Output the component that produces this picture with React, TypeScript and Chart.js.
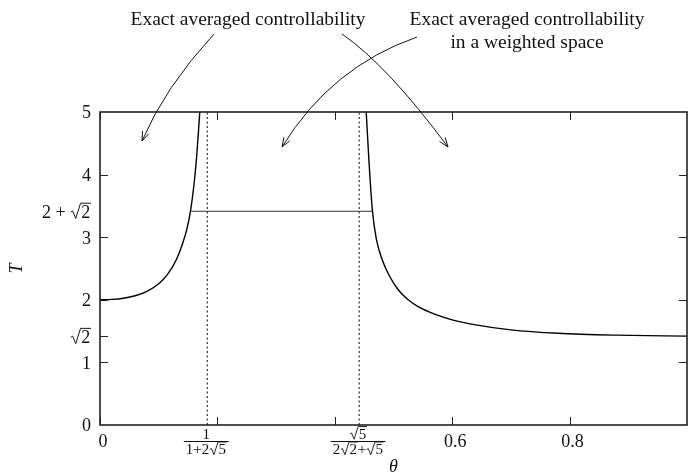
import React, { useEffect, useRef } from "react";
import { Chart, registerables } from "chart.js";

Chart.register(...registerables);

// ---- data ----
const thetaLeft = [0, 0.02, 0.04, 0.06, 0.08, 0.1, 0.115, 0.13, 0.14, 0.148, 0.154, 0.16, 0.165, 0.17];
const tLeft = [2.0, 2.006, 2.025, 2.065, 2.135, 2.255, 2.405, 2.64, 2.88, 3.13, 3.41, 3.83, 4.33, 5.0];

const thetaRight = [0.4535, 0.458, 0.464, 0.471, 0.48, 0.492, 0.508, 0.525, 0.542, 0.57, 0.6, 0.64, 0.7, 0.78, 0.88, 1.0];
const tRight = [5.0, 4.25, 3.43, 2.96, 2.66, 2.4, 2.16, 2.0, 1.89, 1.77, 1.68, 1.6, 1.52, 1.465, 1.435, 1.42];

const plateauTheta = [0.1535, 0.4645];
const plateauT = 3.4142; // 2 + sqrt(2)

// 1/(1+2√5) and √5/(2√2+√5)
const criticalTheta = [0.1827, 0.4415];

const xTickMarks = [0, 0.2, 0.4, 0.6, 0.8];
const xPlainLabels = [0, 0.6, 0.8];
const yLeftTickMarks = [1, 1.4142, 2, 3, 4];
const yRightTickMarks = [1, 2, 3, 4];

type Part = { t?: string; r?: string };
const yLabelValues = [0, 1, 1.4142, 2, 3, 3.4142, 4, 5];
const yLabelParts: Part[][] = [
  [{ t: "0" }],
  [{ t: "1" }],
  [{ r: "2" }],
  [{ t: "2" }],
  [{ t: "3" }],
  [{ t: "2 + " }, { r: "2" }],
  [{ t: "4" }],
  [{ t: "5" }],
];
const fracNum: Part[][] = [[{ t: "1" }], [{ r: "5" }]];
const fracDen: Part[][] = [
  [{ t: "1+2" }, { r: "5" }],
  [{ t: "2" }, { r: "2" }, { t: "+" }, { r: "5" }],
];

const FAMILY = '"Liberation Serif", "DejaVu Serif", serif';

function partsWidth(ctx: CanvasRenderingContext2D, parts: Part[], size: number) {
  let w = 0;
  for (const p of parts) {
    if (p.t !== undefined) w += ctx.measureText(p.t).width;
    else w += size * 0.62 + ctx.measureText(p.r!).width + size * 0.04;
  }
  return w;
}

function drawParts(ctx: CanvasRenderingContext2D, parts: Part[], x: number, baseline: number, size: number) {
  ctx.textAlign = "left";
  ctx.textBaseline = "alphabetic";
  for (const p of parts) {
    if (p.t !== undefined) {
      ctx.fillText(p.t, x, baseline);
      x += ctx.measureText(p.t).width;
    } else {
      const aw = ctx.measureText(p.r!).width;
      const top = baseline - size * 0.8;
      ctx.save();
      ctx.lineWidth = Math.max(0.9, size * 0.055);
      ctx.lineJoin = "miter";
      ctx.beginPath();
      ctx.moveTo(x + size * 0.04, baseline - size * 0.3);
      ctx.lineTo(x + size * 0.14, baseline - size * 0.37);
      ctx.lineTo(x + size * 0.31, baseline + size * 0.05);
      ctx.lineTo(x + size * 0.58, top);
      ctx.lineTo(x + size * 0.62 + aw + size * 0.04, top);
      ctx.stroke();
      ctx.restore();
      ctx.fillText(p.r!, x + size * 0.62, baseline);
      x += size * 0.62 + aw + size * 0.04;
    }
  }
}

function arrow(ctx: CanvasRenderingContext2D, p0: number[], c: number[], p2: number[]) {
  ctx.beginPath();
  ctx.moveTo(p0[0], p0[1]);
  ctx.quadraticCurveTo(c[0], c[1], p2[0], p2[1]);
  ctx.stroke();
  const ang = Math.atan2(p2[1] - c[1], p2[0] - c[0]);
  const len = 10;
  const spread = 0.35;
  ctx.beginPath();
  ctx.moveTo(p2[0] - len * Math.cos(ang - spread), p2[1] - len * Math.sin(ang - spread));
  ctx.lineTo(p2[0], p2[1]);
  ctx.lineTo(p2[0] - len * Math.cos(ang + spread), p2[1] - len * Math.sin(ang + spread));
  ctx.stroke();
}

const decorPlugin = {
  id: "decor",
  afterDraw(chart: any) {
    const ctx: CanvasRenderingContext2D = chart.ctx;
    const { left, right, top, bottom } = chart.chartArea;
    const xs = chart.scales.x;
    const ys = chart.scales.y;
    ctx.save();
    ctx.strokeStyle = "#000";
    ctx.fillStyle = "#000";

    // inward tick marks
    ctx.lineWidth = 1;
    ctx.strokeStyle = "#222";
    const tl = 8;
    for (const v of xTickMarks) {
      const px = Math.round(xs.getPixelForValue(v)) + 0.5;
      ctx.beginPath();
      ctx.moveTo(px, bottom);
      ctx.lineTo(px, bottom - tl);
      ctx.moveTo(px, top);
      ctx.lineTo(px, top + tl);
      ctx.stroke();
    }
    for (const v of yLeftTickMarks) {
      const py = Math.round(ys.getPixelForValue(v)) + 0.5;
      ctx.beginPath();
      ctx.moveTo(left, py);
      ctx.lineTo(left + tl, py);
      ctx.stroke();
    }
    for (const v of yRightTickMarks) {
      const py = Math.round(ys.getPixelForValue(v)) + 0.5;
      ctx.beginPath();
      ctx.moveTo(right, py);
      ctx.lineTo(right - tl, py);
      ctx.stroke();
    }

    // frame
    ctx.lineWidth = 1.6;
    ctx.strokeStyle = "#222";
    ctx.strokeRect(left, top, right - left, bottom - top);

    // y labels
    ctx.fillStyle = "#111";
    ctx.strokeStyle = "#111";
    const ls = 18;
    ctx.font = `${ls}px ${FAMILY}`;
    yLabelValues.forEach((v, i) => {
      const py = ys.getPixelForValue(v);
      const w = partsWidth(ctx, yLabelParts[i], ls);
      drawParts(ctx, yLabelParts[i], left - 9 - w, py + 6.3, ls);
    });

    // x plain labels
    ctx.textAlign = "center";
    ctx.textBaseline = "alphabetic";
    for (const v of xPlainLabels) {
      const px = xs.getPixelForValue(v) + 3;
      ctx.fillText(String(v), px, bottom + 21.5);
    }

    // x fraction labels
    const fs = 15;
    ctx.font = `${fs}px ${FAMILY}`;
    criticalTheta.forEach((v, i) => {
      const px = xs.getPixelForValue(v) - 1;
      const wn = partsWidth(ctx, fracNum[i], fs);
      const wd = partsWidth(ctx, fracDen[i], fs);
      const barW = Math.max(wn, wd) + 4;
      drawParts(ctx, fracNum[i], px - wn / 2, bottom + 13.5, fs);
      ctx.lineWidth = 1;
      ctx.beginPath();
      ctx.moveTo(px - barW / 2, bottom + 16.5);
      ctx.lineTo(px + barW / 2, bottom + 16.5);
      ctx.stroke();
      drawParts(ctx, fracDen[i], px - wd / 2, bottom + 29, fs);
    });

    // annotations
    ctx.font = `19.5px ${FAMILY}`;
    ctx.textAlign = "center";
    ctx.textBaseline = "alphabetic";
    ctx.fillStyle = "#111";
    ctx.fillText("Exact averaged controllability", 248, 25);
    ctx.fillText("Exact averaged controllability", 527, 25);
    ctx.fillText("in a weighted space", 527, 48);

    ctx.strokeStyle = "#111";
    ctx.lineWidth = 1;
    arrow(ctx, [214, 34], [165, 87], [142, 141]);
    arrow(ctx, [417, 37], [331, 67], [282, 147]);
    arrow(ctx, [342, 34], [387, 65], [448, 147]);

    ctx.restore();
  },
};

export default function App() {
  const ref = useRef<HTMLCanvasElement>(null);
  useEffect(() => {
    const toXY = (xs: number[], ys: number[]) => xs.map((x, i) => ({ x, y: ys[i] }));
    const chart = new Chart(ref.current!, {
      type: "scatter",
      data: {
        datasets: [
          {
            data: toXY(thetaLeft, tLeft),
            showLine: true,
            borderColor: "#000",
            borderWidth: 1.4,
            pointRadius: 0,
            cubicInterpolationMode: "monotone",
          },
          {
            data: toXY(thetaRight, tRight),
            showLine: true,
            borderColor: "#000",
            borderWidth: 1.4,
            pointRadius: 0,
            cubicInterpolationMode: "monotone",
          },
          {
            data: plateauTheta.map((x) => ({ x, y: plateauT })),
            showLine: true,
            borderColor: "#333",
            borderWidth: 1,
            pointRadius: 0,
          },
          ...criticalTheta.map((c) => ({
            data: [
              { x: c, y: 0 },
              { x: c, y: 5 },
            ],
            showLine: true,
            borderColor: "#000",
            borderWidth: 1,
            borderDash: [2, 2.5],
            pointRadius: 0,
          })),
        ] as any,
      },
      options: {
        animation: false,
        responsive: false,
        devicePixelRatio: 1,
        layout: { padding: { top: 112, right: 1, left: 0, bottom: 0 } },
        plugins: { legend: { display: false }, tooltip: { enabled: false } },
        scales: {
          x: {
            type: "linear",
            min: 0,
            max: 1,
            grid: { display: false },
            border: { display: false },
            ticks: { display: false },
            afterFit: (s: any) => {
              s.height = 51;
            },
            title: {
              display: true,
              text: "θ",
              color: "#111",
              font: { family: FAMILY, size: 18, style: "italic", lineHeight: 1 },
              padding: { top: 0, bottom: 0 },
            },
          },
          y: {
            type: "linear",
            min: 0,
            max: 5,
            grid: { display: false },
            border: { display: false },
            ticks: { display: false },
            afterFit: (s: any) => {
              s.width = 100;
            },
            title: {
              display: true,
              text: "T",
              color: "#111",
              font: { family: FAMILY, size: 18, style: "italic", lineHeight: 1 },
              padding: { top: 8, bottom: 0 },
            },
          },
        },
      },
      plugins: [decorPlugin],
    } as any);
    return () => chart.destroy();
  }, []);
  return (
    <div style={{ position: "fixed", left: 0, top: 0, width: 688, height: 476, background: "#fff" }}>
      <canvas ref={ref} width={688} height={476} style={{ display: "block", width: 688, height: 476 }} />
    </div>
  );
}
